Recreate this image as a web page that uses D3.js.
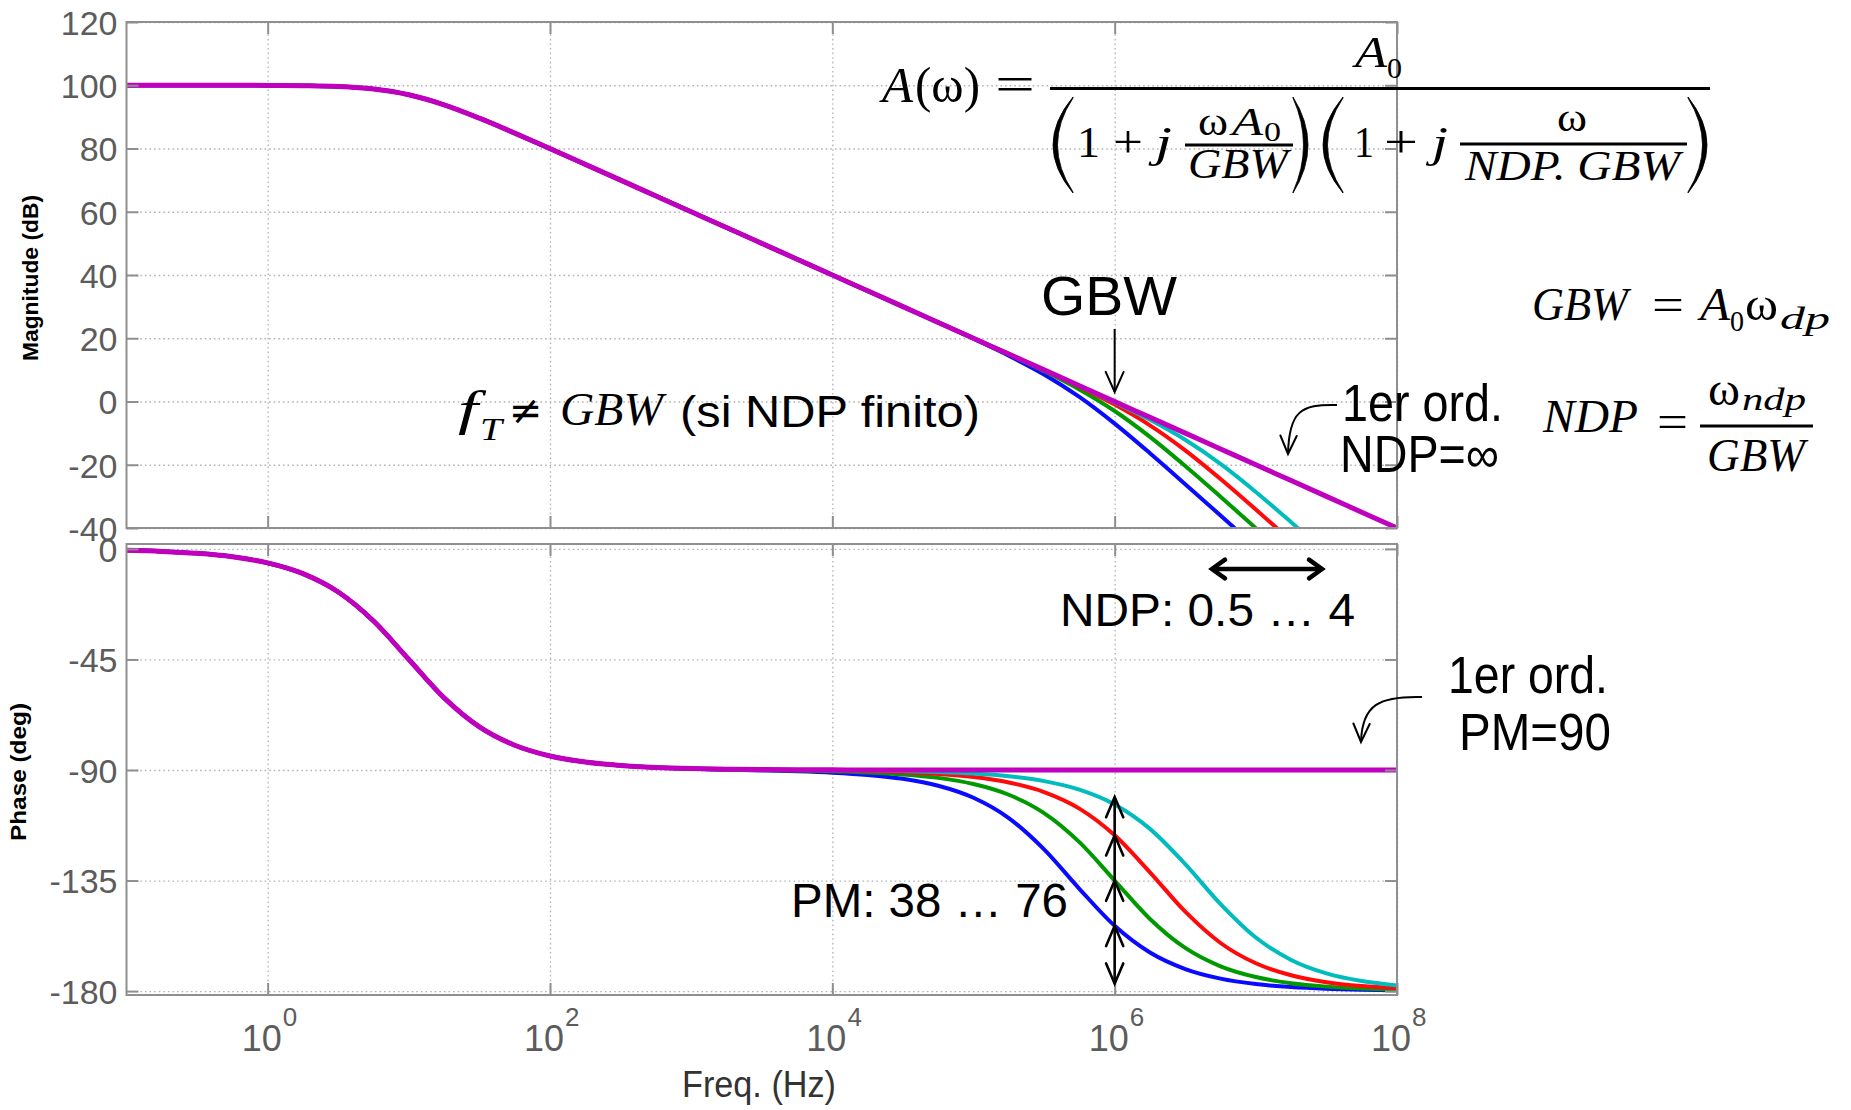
<!DOCTYPE html>
<html><head><meta charset="utf-8">
<script src="https://cdn.jsdelivr.net/npm/d3@7"></script>
<style>body{margin:0;background:#fff}svg{display:block}</style>
</head><body>
<svg id="c" width="1851" height="1110"></svg>
<script>
// ---------------- DATA ----------------
const logFreq = [-1,-0.75,-0.5,-0.25,0,0.25,0.5,0.75,1,1.25,1.5,1.75,2,2.25,2.5,2.75,3,3.25,3.5,3.75,4,4.25,4.5,4.75,5,5.25,5.5,5.75,6,6.25,6.5,6.75,7,7.25,7.5,7.75,8];
const freqHz = logFreq.map(e => Math.pow(10, e));

const seriesNames = ["NDP=0.5", "NDP=1", "NDP=2", "NDP=4", "1er ord."];

const magNdp05 = [100,100,100,99.99,99.96,99.86,99.59,98.81,96.99,93.81,89.59,84.87,79.96,74.99,70,65,60,55,50,45,40,35,29.98,24.95,19.83,14.48,8.54,1.45,-6.99,-16.35,-26.13,-36.05,-46.03,-56.02,-66.02,-76.02,-86.02];
const magNdp1  = [100,100,100,99.99,99.96,99.86,99.59,98.81,96.99,93.81,89.59,84.87,79.96,74.99,70,65,60,55,50,45,40,35,30,24.99,19.96,14.87,9.59,3.81,-3.01,-11.19,-20.41,-30.13,-40.04,-50.01,-60,-70,-80];
const magNdp2  = [100,100,100,99.99,99.96,99.86,99.59,98.81,96.99,93.81,89.59,84.87,79.96,74.99,70,65,60,55,50,45,40,35,30,25,19.99,14.97,9.89,4.67,-0.97,-7.53,-15.44,-24.5,-34.15,-44.03,-54,-64,-73.98];
const magNdp4  = [100,100,100,99.99,99.96,99.86,99.59,98.81,96.99,93.81,89.59,84.87,79.96,74.99,70,65,60,55,50,45,40,35,30,25,20,14.99,9.97,4.92,-0.26,-5.78,-12.11,-19.74,-28.6,-38.17,-48.03,-57.98,-67.97];
const mag1st   = [100,100,100,99.99,99.96,99.86,99.59,98.81,96.99,93.81,89.59,84.87,79.96,74.99,70,65,60,55,50,45,40,35,30,25,20,15,10,5,0,-5,-10,-15,-20,-25,-30,-35,-40];

const phNdp05 = [-0.57,-1.02,-1.81,-3.22,-5.71,-10.08,-17.55,-29.36,-45,-60.64,-72.45,-79.92,-84.29,-86.78,-88.19,-89.04,-89.54,-89.88,-90.18,-90.54,-91.09,-92.01,-93.6,-96.41,-101.31,-109.58,-122.31,-138.36,-153.43,-164.3,-171.02,-174.92,-177.14,-178.39,-179.09,-179.49,-179.71];
const phNdp1  = [-0.57,-1.02,-1.81,-3.22,-5.71,-10.08,-17.55,-29.36,-45,-60.64,-72.45,-79.92,-84.29,-86.78,-88.19,-89.01,-89.49,-89.78,-90,-90.22,-90.51,-90.99,-91.79,-93.21,-95.71,-100.08,-107.55,-119.36,-135,-150.64,-162.45,-169.92,-174.29,-176.78,-178.19,-178.98,-179.43];
const phNdp2  = [-0.57,-1.02,-1.81,-3.22,-5.71,-10.08,-17.55,-29.36,-45,-60.64,-72.45,-79.92,-84.29,-86.78,-88.19,-88.98,-89.46,-89.72,-89.91,-90.06,-90.23,-90.48,-90.89,-91.6,-92.86,-95.08,-98.99,-105.71,-116.57,-131.64,-147.69,-160.43,-168.69,-173.58,-176.38,-177.96,-178.85];
const phNdp4  = [-0.57,-1.02,-1.81,-3.22,-5.71,-10.08,-17.55,-29.36,-45,-60.64,-72.45,-79.92,-84.29,-86.78,-88.19,-88.98,-89.43,-89.68,-89.86,-89.97,-90.08,-90.22,-90.43,-90.8,-91.43,-92.55,-94.52,-98,-104.04,-113.97,-128.33,-144.58,-158.2,-167.32,-172.79,-175.93,-177.71];
const ph1st   = [-0.57,-1.02,-1.81,-3.22,-5.71,-10.08,-17.55,-29.36,-45,-60.64,-72.45,-79.92,-84.29,-86.78,-88.19,-88.98,-89.43,-89.68,-89.82,-89.9,-89.94,-89.97,-89.98,-89.99,-90,-90,-90,-90,-90,-90,-90,-90,-90,-90,-90,-90,-90];

const magTicks = [120,100,80,60,40,20,0,-20,-40];
const phTicks = [0,-45,-90,-135,-180];
const freqTicks = [1,1e2,1e4,1e6,1e8];
const freqTickExp = ["0","2","4","6","8"];
// PM marks at 10^6 (values read at the arrow heads)
const pmMarks = [-101, -116.57, -135, -153.43];
const pmBottom = -177;

// ---------------- STYLE ----------------
const SANS = "'Liberation Sans', Arial, sans-serif";
const SERIF = "'Liberation Serif', 'Times New Roman', serif";
const colors = ["#0a0aff", "#009a00", "#ff0a0a", "#00bcbc", "#bf00bf"];
const widths = [4, 4, 4, 4, 5];

const svg = d3.select("#c");
svg.append("rect").attr("width",1851).attr("height",1110).attr("fill","#fff");

const L = 126.5, R = 1397;
const magT = 22, magB = 528, phT = 544, phB = 995;
const x = d3.scaleLog().domain([0.1, 1e8]).range([L, R]);
const yMag = d3.scaleLinear().domain([-40, 120]).range([magB, magT]);
const yPh = d3.scaleLinear().domain([-181.6, 2]).range([phB, phT]);

const defs = svg.append("defs");
defs.append("clipPath").attr("id","clipMag").append("rect").attr("x",L).attr("y",magT).attr("width",R-L).attr("height",magB-magT);
defs.append("clipPath").attr("id","clipPh").append("rect").attr("x",L).attr("y",phT).attr("width",R-L).attr("height",phB-phT);

function panel(y, top, bottom, ticks, clipId, series) {
  const g = svg.append("g");
  // grid
  g.append("g").attr("transform",`translate(${L},0)`)
    .call(d3.axisLeft(y).tickValues(ticks).tickSize(-(R-L)).tickFormat(""))
    .call(s => s.select(".domain").remove())
    .call(s => s.selectAll("line").attr("stroke","#b3b3b3").attr("stroke-width",1.3).attr("stroke-dasharray","1.6,3"));
  g.append("g").attr("transform",`translate(0,${bottom})`)
    .call(d3.axisBottom(x).tickValues(freqTicks).tickSize(-(bottom-top)).tickFormat(""))
    .call(s => s.select(".domain").remove())
    .call(s => s.selectAll("line").attr("stroke","#b3b3b3").attr("stroke-width",1.3).attr("stroke-dasharray","1.6,3"));
  // curves
  const line = d3.line().x((d,i) => x(freqHz[i])).y(d => y(d)).curve(d3.curveMonotoneX);
  g.append("g").attr("clip-path",`url(#${clipId})`)
    .selectAll("path").data(series).join("path")
    .attr("d", d => line(d)).attr("fill","none")
    .attr("stroke",(d,i) => colors[i]).attr("stroke-width",(d,i) => widths[i])
    .attr("stroke-linejoin","round").attr("stroke-linecap","round");
  // box
  g.append("rect").attr("x",L).attr("y",top).attr("width",R-L).attr("height",bottom-top)
    .attr("fill","none").attr("stroke","#8f8f8f").attr("stroke-width",2);
  // inward ticks
  const tickStyle = s => { s.select(".domain").remove(); s.selectAll("line").attr("stroke","#8f8f8f").attr("stroke-width",2); };
  g.append("g").attr("transform",`translate(${L},0)`)
    .call(d3.axisLeft(y).tickValues(ticks).tickSizeInner(-12).tickSizeOuter(0).tickPadding(9).tickFormat(d => String(d)))
    .call(tickStyle)
    .call(s => s.selectAll("text").attr("font-family",SANS).attr("font-size",34).attr("fill","#5c5c5c").attr("dy","0.36em"));
  g.append("g").attr("transform",`translate(${R},0)`)
    .call(d3.axisRight(y).tickValues(ticks).tickSizeInner(-12).tickSizeOuter(0).tickFormat(""))
    .call(tickStyle);
  g.append("g").attr("transform",`translate(0,${top})`)
    .call(d3.axisTop(x).tickValues(freqTicks).tickSizeInner(-12).tickSizeOuter(0).tickFormat(""))
    .call(tickStyle);
  g.append("g").attr("transform",`translate(0,${bottom})`)
    .call(d3.axisBottom(x).tickValues(freqTicks).tickSizeInner(-12).tickSizeOuter(0).tickFormat(""))
    .call(tickStyle);
  return g;
}

panel(yMag, magT, magB, magTicks, "clipMag", [magNdp05, magNdp1, magNdp2, magNdp4, mag1st]);
panel(yPh, phT, phB, phTicks, "clipPh", [phNdp05, phNdp1, phNdp2, phNdp4, ph1st]);

// x tick labels 10^n
const xl = svg.append("g").selectAll("text").data(freqTicks).join("text")
  .attr("x", d => x(d) - 26).attr("y", 1051)
  .attr("font-family",SANS).attr("fill","#5c5c5c").attr("font-size",36);
xl.append("tspan").text("10");
xl.append("tspan").style("font-size","26px").attr("dx",1).attr("dy",-25).text((d,i) => freqTickExp[i]);

// ---------------- TEXT HELPERS ----------------
function txt(str, x0, y0, size, opt = {}) {
  const t = svg.append("text").attr("x",x0).attr("y",y0).attr("font-size",size)
    .attr("font-family", opt.family || (opt.serif ? SERIF : SANS)).attr("fill", opt.fill || "#000").text(str);
  if (opt.italic) t.attr("font-style","italic");
  if (opt.bold) t.attr("font-weight","bold");
  if (opt.len) t.attr("textLength",opt.len).attr("lengthAdjust","spacingAndGlyphs");
  if (opt.anchor) t.attr("text-anchor",opt.anchor);
  if (opt.rot) t.attr("transform",`rotate(${opt.rot},${x0},${y0})`);
  return t;
}
function hline(x0, x1, y0, w) {
  svg.append("line").attr("x1",x0).attr("x2",x1).attr("y1",y0).attr("y2",y0).attr("stroke","#000").attr("stroke-width",w);
}
function paren(x0, x1, top, bot, left) {
  const mid = (top + bot) / 2;
  let d;
  if (left) {
    d = `M${x1},${top} Q${2*x0-x1},${mid} ${x1},${bot} L${x1},${bot-1} Q${2*(x0+4.5)-x1},${mid} ${x1},${top+1} Z`;
  } else {
    d = `M${x0},${top} Q${2*x1-x0},${mid} ${x0},${bot} L${x0},${bot-1} Q${2*(x1-4.5)-x0},${mid} ${x0},${top+1} Z`;
  }
  svg.append("path").attr("d",d).attr("fill","#000").attr("stroke","#000").attr("stroke-width",0.8);
}
function head(tx, ty, ang, len, spread, w) {
  const a1 = ang + Math.PI - spread, a2 = ang + Math.PI + spread;
  svg.append("path").attr("d",
    `M${tx+len*Math.cos(a1)},${ty+len*Math.sin(a1)} L${tx},${ty} L${tx+len*Math.cos(a2)},${ty+len*Math.sin(a2)}`)
    .attr("fill","none").attr("stroke","#000").attr("stroke-width",w).attr("stroke-linejoin","miter").attr("stroke-linecap","round");
}
function seg(x0,y0,x1,y1,w){
  svg.append("line").attr("x1",x0).attr("y1",y0).attr("x2",x1).attr("y2",y1).attr("stroke","#000").attr("stroke-width",w);
}

// axis labels
txt("Magnitude (dB)", 38, 278, 22, {bold:true, anchor:"middle", rot:-90, len:166});
txt("Phase (deg)", 26, 772, 22, {bold:true, anchor:"middle", rot:-90, len:138});
txt("Freq. (Hz)", 682, 1097, 36, {len:154, fill:"#333"});

// ---------------- MAIN FORMULA ----------------
txt("A", 882, 102, 50, {serif:true, italic:true, len:31});
txt("(ω)", 915, 102, 50, {serif:true, len:65});
txt("=", 995, 101, 50, {serif:true, len:40});
hline(1050, 1710, 88.5, 3.2);
txt("A", 1355, 67, 44, {serif:true, italic:true, len:32});
txt("0", 1387, 78, 30, {serif:true, len:15});
// first factor
paren(1053, 1073, 97, 193, true);
txt("1", 1077, 157, 44, {serif:true, len:23});
txt("+", 1113, 157, 46, {serif:true, len:30});
txt("j", 1155, 157, 44, {serif:true, italic:true, len:17});
txt("ω", 1198, 135, 40, {serif:true, len:30});
txt("A", 1232, 135, 40, {serif:true, italic:true, len:31});
txt("0", 1264, 141, 27, {serif:true, len:17});
hline(1185, 1293, 145, 2.8);
txt("GBW", 1188, 178, 42, {serif:true, italic:true, len:100});
paren(1293, 1308, 97, 193, false);
// second factor
paren(1323, 1343, 97, 193, true);
txt("1", 1354, 157, 44, {serif:true, len:20});
txt("+", 1384, 157, 46, {serif:true, len:34});
txt("j", 1432, 157, 44, {serif:true, italic:true, len:16});
txt("ω", 1557, 131, 40, {serif:true, len:30});
hline(1460, 1687, 144, 2.8);
txt("NDP. GBW", 1465, 180, 42, {serif:true, italic:true, len:215});
paren(1688, 1707, 97, 193, false);

// ---------------- RIGHT FORMULAS ----------------
txt("GBW", 1532, 320, 46, {serif:true, italic:true, len:96});
txt("=", 1652, 320, 46, {serif:true, len:32});
txt("A", 1700, 320, 46, {serif:true, italic:true, len:30});
txt("0", 1730, 331, 29, {serif:true, len:14});
txt("ω", 1745, 320, 46, {serif:true, len:33});
txt("dp", 1780, 329, 31, {serif:true, italic:true, len:50});

txt("NDP", 1543, 432, 46, {serif:true, italic:true, len:95});
txt("=", 1657, 437, 46, {serif:true, len:31});
hline(1700, 1813, 426, 2.8);
txt("ω", 1708, 405, 46, {serif:true, len:32});
txt("ndp", 1742, 410, 31, {serif:true, italic:true, len:64});
txt("GBW", 1707, 471, 46, {serif:true, italic:true, len:98});

// ---------------- ANNOTATIONS ----------------
const x6 = x(freqTicks[3]);
// f_T != GBW (si NDP finito)
txt("f", 458, 425, 48, {serif:true, italic:true, len:20});
txt("T", 480, 440, 32, {serif:true, italic:true, len:22});
txt("≠", 509, 424, 40, {family:"'DejaVu Sans', sans-serif"});
txt("GBW", 560, 425, 46, {serif:true, italic:true, len:103});
txt("(si NDP finito)", 680, 427, 44, {len:300});

// GBW label and arrow
txt("GBW", 1041, 315, 56, {len:136});
seg(x6, 329, x6, 392, 2);
head(x6, 392, Math.PI/2, 22, 0.42, 2);

// 1er ord. NDP=inf
txt("1er ord.", 1342, 421, 51, {len:161});
txt("NDP=∞", 1340, 472, 51, {len:159});
svg.append("path").attr("d","M1337,405 C1300,404 1289,412 1288,454").attr("fill","none").attr("stroke","#000").attr("stroke-width",2);
head(1288, 454, Math.PI/2 + 0.03, 20, 0.42, 2);

// NDP range double arrow
seg(1214, 569, 1320, 569, 4.5);
head(1212, 569, Math.PI, 16, 0.62, 4.5);
head(1322, 569, 0, 16, 0.62, 4.5);
txt("NDP: 0.5 … 4", 1060, 626, 47, {len:295});

// 1er ord. PM=90
txt("1er ord.", 1448, 693, 51, {len:160});
txt("PM=90", 1459, 750, 51, {len:152});
svg.append("path").attr("d","M1422,697 C1380,696 1362,704 1361,742").attr("fill","none").attr("stroke","#000").attr("stroke-width",2);
head(1361, 742, Math.PI/2 + 0.03, 20, 0.42, 2);

// PM vertical arrow
seg(x6, yPh(pmMarks[0]), x6, yPh(pmBottom), 2.6);
pmMarks.forEach(v => head(x6, yPh(v), -Math.PI/2, 22, 0.4, 2.6));
head(x6, yPh(pmBottom), Math.PI/2, 22, 0.4, 2.6);
txt("PM: 38 … 76", 791, 917, 48, {len:277});
</script>
</body></html>
